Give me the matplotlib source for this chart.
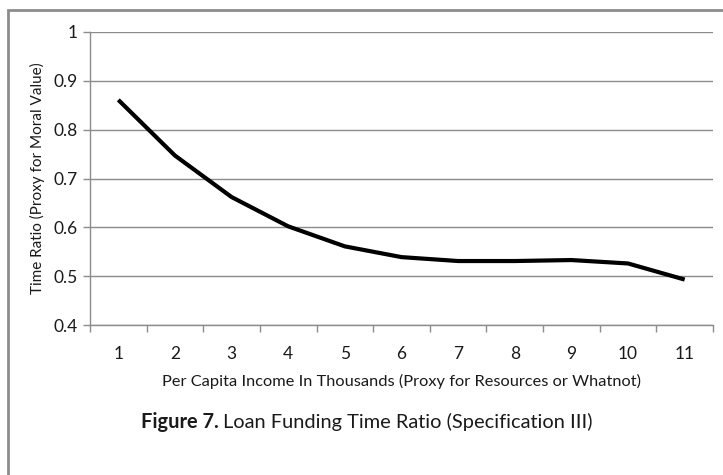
import matplotlib
matplotlib.use("Agg")
import matplotlib.pyplot as plt
from matplotlib.patches import Rectangle
from matplotlib.ticker import FixedLocator, NullFormatter, FixedFormatter

categories = ["1", "2", "3", "4", "5", "6", "7", "8", "9", "10", "11"]
time_ratio = [0.861, 0.747, 0.662, 0.602, 0.561, 0.539, 0.531, 0.531, 0.533, 0.526, 0.493]
y_ticks = [0.4, 0.5, 0.6, 0.7, 0.8, 0.9, 1.0]
y_tick_labels = ["0.4", "0.5", "0.6", "0.7", "0.8", "0.9", "1"]

plt.rcParams['font.family'] = ['Lato', 'DejaVu Sans']

fig = plt.figure(figsize=(7.23, 4.75), dpi=100)
W, H = 723, 475
ax = fig.add_axes([90 / W, 1 - 325 / H, (713 - 90) / W, (325 - 32) / H])

x = list(range(len(categories)))
ax.plot(x, time_ratio, color="black", lw=3.0, solid_joinstyle="round", solid_capstyle="butt", zorder=3)

ax.set_xlim(-0.5, len(categories) - 0.5)
ax.set_ylim(0.4, 1.0)

ax.set_yticks(y_ticks)
ax.set_yticklabels(y_tick_labels)
ax.yaxis.grid(True, color="#8c8c8c", lw=1.0)
ax.set_axisbelow(True)

# categories at centres, tick marks between
ax.xaxis.set_major_locator(FixedLocator([i - 0.5 for i in range(len(categories) + 1)]))
ax.xaxis.set_major_formatter(NullFormatter())
ax.xaxis.set_minor_locator(FixedLocator(x))
ax.xaxis.set_minor_formatter(FixedFormatter(categories))
ax.tick_params(axis="x", which="major", length=5, width=1, color="#8c8c8c", direction="out")
ax.tick_params(axis="x", which="minor", length=0, labelsize=12.5, pad=15, labelcolor="#1a1a1a")
ax.tick_params(axis="y", length=5, width=1, color="#8c8c8c", labelsize=12.5, pad=4, labelcolor="#1a1a1a")

for s in ["top", "right"]:
    ax.spines[s].set_visible(False)
for s in ["left", "bottom"]:
    ax.spines[s].set_color("#8c8c8c")
    ax.spines[s].set_linewidth(1.0)

ax.set_xlabel("Per Capita Income In Thousands (Proxy for Resources or Whatnot)",
              fontsize=11.75, color="#1a1a1a", labelpad=9)
ax.set_ylabel("Time Ratio (Proxy for Moral Value)", fontsize=11, color="#1a1a1a", labelpad=6)

t1 = fig.text(141 / W, 1 - 422 / H, "Figure 7.", fontsize=14.4, fontweight="bold",
              va="center", ha="left", color="#1a1a1a")
fig.canvas.draw()
bb = t1.get_window_extent()
fig.text((bb.x1 + 4) / W, 1 - 422 / H, "Loan Funding Time Ratio (Specification III)",
         fontsize=14.4, va="center", ha="left", color="#1a1a1a")

fig.patches.append(Rectangle((8 / W, -0.05), 1.1, 1 - 9.5 / H + 0.05, transform=fig.transFigure,
                             fill=False, edgecolor="#8c8c8c", lw=2.0, zorder=0))

fig.savefig("out.png", dpi=100)
